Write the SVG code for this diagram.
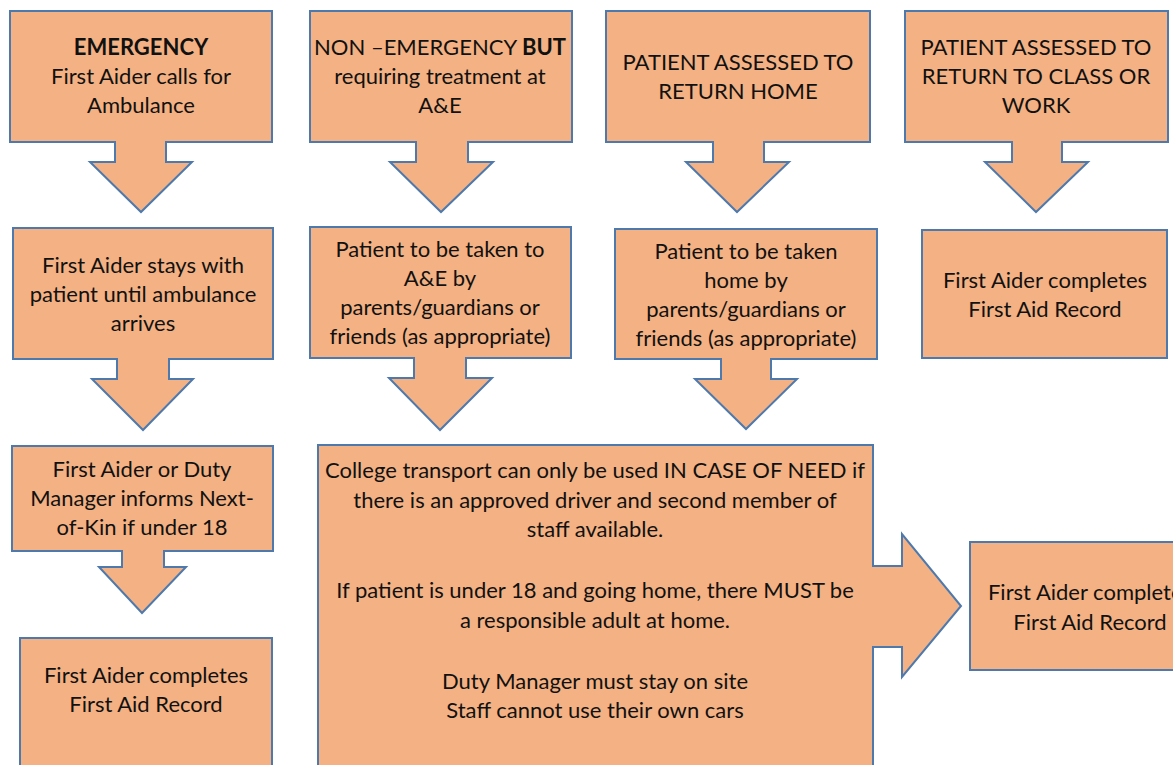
<svg xmlns="http://www.w3.org/2000/svg" width="1173" height="765" viewBox="0 0 1173 765">
<style>
.box{fill:#F4B183;stroke:#4D79AD;stroke-width:2}
.arr{fill:#F4B183;stroke:#4D79AD;stroke-width:2;stroke-linejoin:miter}
text{font-family:Lato,"Liberation Sans",sans-serif;font-size:22px;fill:#111;text-anchor:middle}
.b{font-weight:bold}
</style>
<rect width="1173" height="765" fill="#fff"/>
<g id="n-emergency"><rect class="box" x="10" y="11" width="262" height="131"/>
<text x="141" y="55" class="b">EMERGENCY</text><text x="141" y="84">First Aider calls for</text><text x="141" y="113">Ambulance</text></g>
<g id="n-nonemergency"><rect class="box" x="310" y="11" width="262" height="131"/>
<text x="440" y="55">NON –EMERGENCY <tspan class="b">BUT</tspan></text><text x="440" y="84">requiring treatment at</text><text x="440" y="113">A&amp;E</text></g>
<g id="n-home"><rect class="box" x="606" y="11" width="264" height="131"/>
<text x="738" y="70">PATIENT ASSESSED TO</text><text x="738" y="99">RETURN HOME</text></g>
<g id="n-class"><rect class="box" x="905" y="11" width="263" height="131"/>
<text x="1036" y="55">PATIENT ASSESSED TO</text><text x="1036" y="84">RETURN TO CLASS OR</text><text x="1036" y="113">WORK</text></g>
<g id="n-stays"><rect class="box" x="13" y="228" width="260" height="131"/>
<text x="143" y="273">First Aider stays with</text><text x="143" y="302">patient until ambulance</text><text x="143" y="331">arrives</text></g>
<g id="n-ae"><rect class="box" x="310" y="227" width="261" height="131"/>
<text x="440" y="257">Patient to be taken to</text><text x="440" y="286">A&amp;E by</text><text x="440" y="315">parents/guardians or</text><text x="440" y="344">friends (as appropriate)</text></g>
<g id="n-takenhome"><rect class="box" x="615" y="229" width="262" height="130"/>
<text x="746" y="259">Patient to be taken</text><text x="746" y="288">home by</text><text x="746" y="317">parents/guardians or</text><text x="746" y="346">friends (as appropriate)</text></g>
<g id="n-record1"><rect class="box" x="922" y="230" width="245" height="128"/>
<text x="1045" y="288">First Aider completes</text><text x="1045" y="317">First Aid Record</text></g>
<g id="n-nok"><rect class="box" x="12" y="446" width="261" height="105"/>
<text x="142" y="477">First Aider or Duty</text><text x="142" y="506">Manager informs Next-</text><text x="142" y="535">of-Kin if under 18</text></g>
<g id="n-record2"><rect class="box" x="20" y="638" width="252" height="140"/>
<text x="146" y="683">First Aider completes</text><text x="146" y="712">First Aid Record</text></g>
<g id="n-transport"><rect class="box" x="318" y="445" width="555" height="340"/>
<text x="595" y="478">College transport can only be used IN CASE OF NEED if</text>
<text x="595" y="508">there is an approved driver and second member of</text>
<text x="595" y="537">staff available.</text>
<text x="595" y="598">If patient is under 18 and going home, there MUST be</text>
<text x="595" y="628">a responsible adult at home.</text>
<text x="595" y="689">Duty Manager must stay on site</text>
<text x="595" y="718">Staff cannot use their own cars</text></g>
<g id="n-record3"><rect class="box" x="970" y="542" width="250" height="128"/>
<text x="1090" y="600">First Aider completes</text><text x="1090" y="630">First Aid Record</text></g>
<g id="connectors">
<path class="arr" d="M115,141 V162 H90 L141,212 L192,162 H166 V141"/>
<path class="arr" d="M416,141 V162 H390 L441,212 L493,162 H468 V141"/>
<path class="arr" d="M713,141 V162 H686 L737,212 L789,162 H764 V141"/>
<path class="arr" d="M1012,141 V162 H985 L1036,212 L1088,162 H1062 V141"/>
<path class="arr" d="M117,358 V379 H92 L143,430 L193,379 H169 V358"/>
<path class="arr" d="M414,357 V378 H389 L440,430 L492,378 H466 V357"/>
<path class="arr" d="M721,358 V379 H695 L746,429 L797,379 H771 V358"/>
<path class="arr" d="M122,550 V567 H99 L142,613 L186,567 H164 V550"/>
<path class="arr" d="M872,566 H902 V534 L961,606 L902,677 V647 H872"/>
</g>
</svg>
